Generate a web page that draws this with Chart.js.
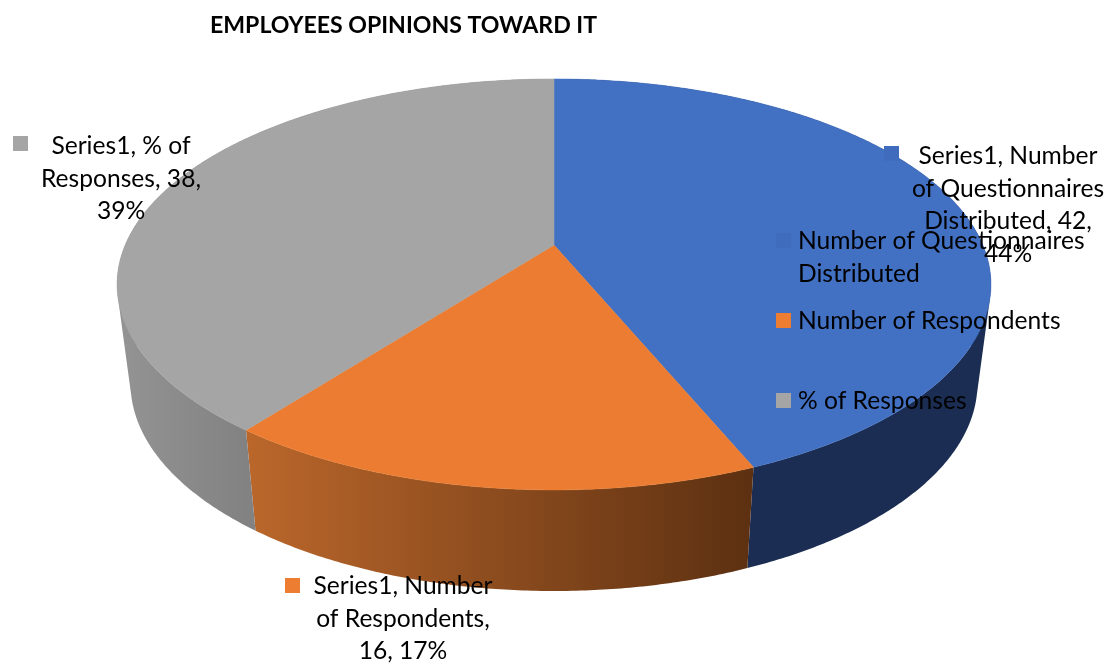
<!DOCTYPE html>
<html>
<head>
<meta charset="utf-8">
<title>Employees opinions toward IT</title>
<script src="https://cdn.jsdelivr.net/npm/chart.js@4"></script>
<style>
    html, body { margin: 0; padding: 0; background: #fff; }
    canvas { display: block; }
</style>
</head>
<body>
<canvas id="opinionsChart" width="1106" height="664"></canvas>
<script>
const categories = ['Number of Questionnaires Distributed', 'Number of Respondents', '% of Responses'];
const values = [42, 16, 38];
const chartTitle = 'EMPLOYEES OPINIONS TOWARD IT';

// wrapped text of the legend and of the slice labels
const legendLines = [['Number of Questionnaires', 'Distributed'], ['Number of Respondents'], ['% of Responses']];
const sliceLabelLines = [
    ['Series1, Number', 'of Questionnaires', 'Distributed, 42,', '44%'],
    ['Series1, Number', 'of Respondents,', '16, 17%'],
    ['Series1, % of', 'Responses, 38,', '39%']
];

const topColors = ['#4271c3', '#eb7c31', '#a5a5a5'];
const keyColors = ['#3f6cbd', '#ed7d31', '#a5a5a5'];
const wallColors = [['#1b2d52', '#1b2d52'], ['#bb672b', '#5c3011'], ['#949494', '#828282']];

// top and bottom rims of the pie, k is the perspective factor
const topRim = { cx: 554, cy: 245, a: 428.8, b: 197.9, k: 0.192 };
const bottomRim = { cx: 554, cy: 343.5, a: 415.6, b: 200, k: 0.192 };

const sliceLabelPos = [
    { cx: 1008, y: 164, keyX: 884, keyY: 146 },
    { cx: 403, y: 594, keyX: 285, keyY: 578 },
    { cx: 121, y: 154, keyX: 13, keyY: 136 }
];
const legendPos = [{ x: 776, y: 233 }, { x: 776, y: 313 }, { x: 776, y: 393 }];

const labelFont = '24.6px Lato';
const lineGap = 32.5;
const arcStep = Math.PI / 360;

function project(angle, rim) {
    const u = Math.cos(angle), v = -Math.sin(angle);
    const w = 1 + rim.k * v;
    return { x: rim.cx + rim.a * u / w, y: rim.cy - rim.b * v / w };
}

function wallGradient(ctx, start, end, colors) {
    // shading only spans the part of the wall that faces the viewer
    let minX = Infinity, maxX = -Infinity;
    for (let a = start; a <= end; a += arcStep) {
        if (Math.sin(a) < -0.2) continue;
        const x = project(a, topRim).x;
        minX = Math.min(minX, x);
        maxX = Math.max(maxX, x);
    }
    const grad = ctx.createLinearGradient(minX, 0, maxX, 0);
    grad.addColorStop(0, colors[0]);
    grad.addColorStop(1, colors[1]);
    return grad;
}

function drawWall(ctx, start, end, colors) {
    ctx.fillStyle = wallGradient(ctx, start, end, colors);
    ctx.beginPath();
    for (let a = start; a < end; a += arcStep) {
        const b = Math.min(a + arcStep, end);
        let quad = [project(a, topRim), project(b, topRim), project(b, bottomRim), project(a, bottomRim)];
        // same winding for every quad, so one fill covers them without seams
        let area = 0;
        quad.forEach((p, i) => {
            const q = quad[(i + 1) % 4];
            area += p.x * q.y - q.x * p.y;
        });
        if (area < 0) quad = quad.reverse();
        ctx.moveTo(quad[0].x, quad[0].y);
        for (let i = 1; i < 4; i++) ctx.lineTo(quad[i].x, quad[i].y);
        ctx.closePath();
    }
    ctx.fill('nonzero');
}

function drawFace(ctx, start, end, color) {
    ctx.fillStyle = color;
    ctx.strokeStyle = color;
    ctx.lineWidth = 0.5;
    ctx.beginPath();
    ctx.moveTo(topRim.cx, topRim.cy);
    for (let a = start; a < end; a += arcStep) {
        const p = project(a, topRim);
        ctx.lineTo(p.x, p.y);
    }
    const last = project(end, topRim);
    ctx.lineTo(last.x, last.y);
    ctx.closePath();
    ctx.fill();
    ctx.stroke();
}

// replaces the flat arcs with a tilted pie, angles still come from the arc elements
const tiltedPie = {
    id: 'tiltedPie',
    beforeDatasetDraw(chart, args) {
        const ctx = chart.ctx;
        const arcs = args.meta.data;
        ctx.save();
        arcs.forEach((arc, i) => drawWall(ctx, arc.startAngle, arc.endAngle, wallColors[i]));
        arcs.forEach((arc, i) => drawFace(ctx, arc.startAngle, arc.endAngle, topColors[i]));
        ctx.restore();
        return false;
    }
};

const pieText = {
    id: 'pieText',
    afterDraw(chart) {
        const ctx = chart.ctx;
        ctx.save();
        ctx.font = labelFont;
        ctx.textBaseline = 'alphabetic';

        sliceLabelLines.forEach((lines, i) => {
            const pos = sliceLabelPos[i];
            ctx.fillStyle = keyColors[i];
            ctx.fillRect(pos.keyX, pos.keyY, 15, 15);
            ctx.fillStyle = '#000';
            ctx.textAlign = 'center';
            lines.forEach((line, n) => ctx.fillText(line, pos.cx, pos.y + n * lineGap));
        });

        legendLines.forEach((lines, i) => {
            const pos = legendPos[i];
            ctx.fillStyle = keyColors[i];
            ctx.fillRect(pos.x, pos.y, 15, 15);
            ctx.fillStyle = '#000';
            ctx.textAlign = 'left';
            lines.forEach((line, n) => ctx.fillText(line, pos.x + 22, pos.y + 16 + n * lineGap));
        });
        ctx.restore();
    }
};

const ctx = document.getElementById('opinionsChart').getContext('2d');
const opinionsChart = new Chart(ctx, {
    type: 'pie',
    data: {
        labels: categories,
        datasets: [{
            label: 'Series1',
            data: values,
            backgroundColor: topColors,
            borderWidth: 0
        }]
    },
    options: {
        responsive: false,
        animation: false,
        layout: { padding: { left: 210 } },
        plugins: {
            legend: { display: false },
            tooltip: { enabled: false },
            title: {
                display: true,
                text: chartTitle,
                align: 'start',
                color: '#000',
                font: { family: 'Lato', size: 23.1, weight: 'bold' },
                padding: { top: 12, bottom: 10 }
            }
        }
    },
    plugins: [tiltedPie, pieText]
});
</script>
</body>
</html>
